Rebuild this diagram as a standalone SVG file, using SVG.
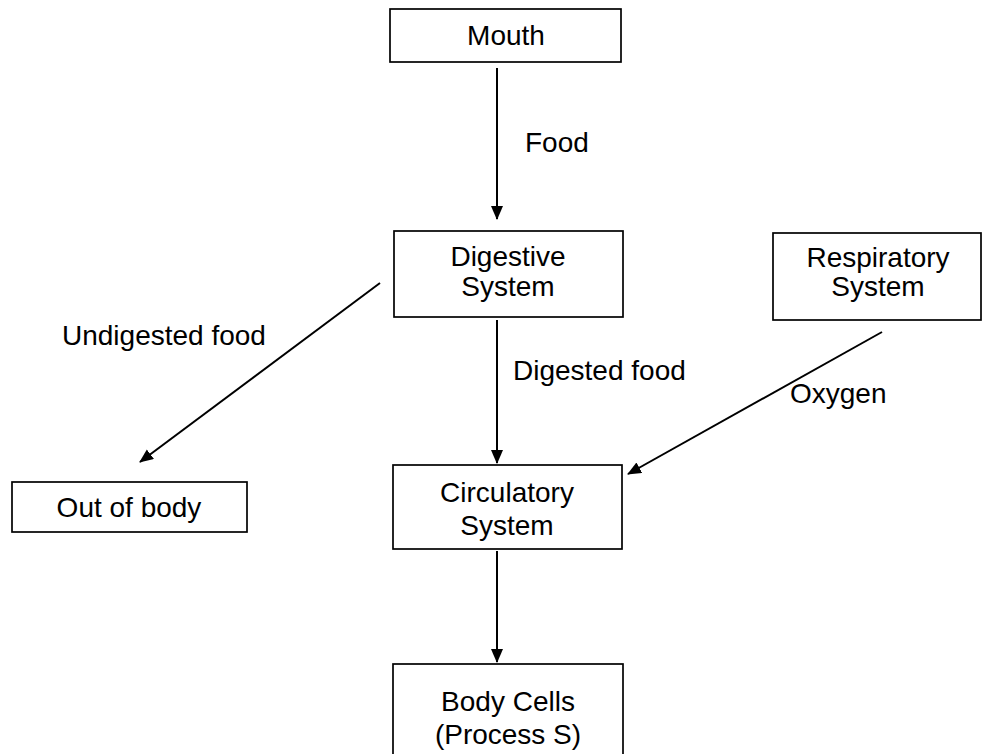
<svg xmlns="http://www.w3.org/2000/svg" width="989" height="754" viewBox="0 0 989 754">
<defs>
<marker id="ah" markerWidth="14" markerHeight="16" refX="13" refY="6" orient="auto" markerUnits="userSpaceOnUse">
<path d="M0,0 L14,6 L0,12 Z" fill="#000"/>
</marker>
<style>
.box{fill:#fff;stroke:#000;stroke-width:1.7}
.t{font-family:"Liberation Sans",Arial,sans-serif;font-size:28px;fill:#000}
.c{text-anchor:middle}
.ln{stroke:#000;stroke-width:2;fill:none;marker-end:url(#ah)}
</style>
</defs>
<rect width="989" height="754" fill="#fff"/>
<g id="connectors">
<line class="ln" x1="497" y1="68" x2="497" y2="219"/>
<line class="ln" x1="497" y1="320" x2="497" y2="463"/>
<line class="ln" x1="497" y1="551" x2="497" y2="662"/>
<line class="ln" x1="380" y1="283" x2="140" y2="462"/>
<line class="ln" x1="882" y1="332" x2="628" y2="474"/>
</g>
<g id="labels">
<text class="t" x="525" y="152">Food</text>
<text class="t" x="513" y="380">Digested food</text>
<text class="t" x="62" y="345">Undigested food</text>
<text class="t" x="790" y="403">Oxygen</text>
</g>
<g id="mouth">
<rect class="box" x="390" y="9" width="231" height="53"/>
<text class="t c" x="506" y="45">Mouth</text>
</g>
<g id="digestive">
<rect class="box" x="394" y="231" width="229" height="86"/>
<text class="t c" x="508" y="266">Digestive</text>
<text class="t c" x="508" y="296">System</text>
</g>
<g id="respiratory">
<rect class="box" x="773" y="233" width="208" height="87"/>
<text class="t c" x="878" y="267">Respiratory</text>
<text class="t c" x="878" y="296">System</text>
</g>
<g id="circulatory">
<rect class="box" x="393" y="465" width="229" height="84"/>
<text class="t c" x="507" y="502">Circulatory</text>
<text class="t c" x="507" y="535">System</text>
</g>
<g id="outofbody">
<rect class="box" x="12" y="482" width="235" height="50"/>
<text class="t c" x="129" y="517">Out of body</text>
</g>
<g id="bodycells">
<rect class="box" x="393" y="664" width="230" height="100"/>
<text class="t c" x="508" y="711">Body Cells</text>
<text class="t c" x="508" y="744">(Process S)</text>
</g>
</svg>
